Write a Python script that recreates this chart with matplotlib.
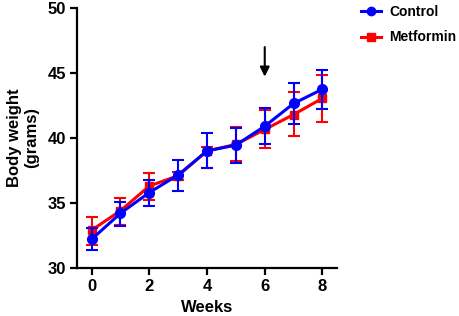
import numpy as np
import matplotlib.pyplot as plt
from matplotlib.lines import Line2D

plt.rcParams['font.family'] = ['Liberation Sans', 'DejaVu Sans']
plt.rcParams['font.weight'] = 'bold'

weeks = [0, 1, 2, 3, 4, 5, 6, 7, 8]
control = [32.2, 34.2, 35.8, 37.15, 39.0, 39.45, 40.9, 42.65, 43.75]
control_lo = [31.35, 33.2, 34.8, 35.9, 37.7, 38.1, 39.5, 41.1, 42.25]
control_hi = [33.1, 35.1, 36.8, 38.3, 40.4, 40.8, 42.3, 44.2, 45.2]
metformin = [32.9, 34.4, 36.3, 37.1, 39.0, 39.5, 40.65, 41.8, 43.05]
metformin_lo = [31.8, 33.3, 35.2, 36.8, 37.7, 38.2, 39.25, 40.15, 41.25]
metformin_hi = [33.9, 35.4, 37.3, 37.4, 39.3, 40.85, 42.15, 43.5, 44.85]

fig = plt.figure(figsize=(4.59, 3.16), dpi=100)
ax = fig.add_axes([0.168, 0.152, 0.566, 0.823])

m = np.array(metformin)
c = np.array(control)
ax.errorbar(weeks, m, yerr=[m - np.array(metformin_lo), np.array(metformin_hi) - m],
            color='#ff0000', marker='s', markersize=6, lw=2.2, capsize=4,
            elinewidth=1.5, capthick=1.5, zorder=2)
ax.errorbar(weeks, c, yerr=[c - np.array(control_lo), np.array(control_hi) - c],
            color='#0000ff', marker='o', markersize=7, lw=2.2, capsize=4,
            elinewidth=1.5, capthick=1.5, zorder=3)

ax.annotate('', xy=(6, 44.5), xytext=(6, 47.2),
            arrowprops=dict(arrowstyle='-|>', color='black', lw=1.5,
                            mutation_scale=14))

ax.set_xlim(-0.5, 8.5)
ax.set_ylim(30, 50)
ax.set_xticks([0, 2, 4, 6, 8])
ax.set_yticks([30, 35, 40, 45, 50])
for s in ['top', 'right']:
    ax.spines[s].set_visible(False)
for s in ['left', 'bottom']:
    ax.spines[s].set_linewidth(1.6)
ax.tick_params(width=1.6, length=5, labelsize=12, pad=3)
ax.set_xlabel('Weeks', fontsize=12, fontweight='bold', labelpad=4)
ax.set_ylabel('Body weight\n(grams)', fontsize=12, fontweight='bold', labelpad=6)

handles = [Line2D([], [], color='#0000ff', marker='o', markersize=6, lw=2.2),
           Line2D([], [], color='#ff0000', marker='s', markersize=5.5, lw=2.2)]
fig.legend(handles, ['Control', 'Metformin'], loc='upper left',
           bbox_to_anchor=(0.76, 1.025), frameon=False, fontsize=10,
           handlelength=1.4, handletextpad=0.6, labelspacing=0.85)

fig.savefig('out.png', dpi=100)
